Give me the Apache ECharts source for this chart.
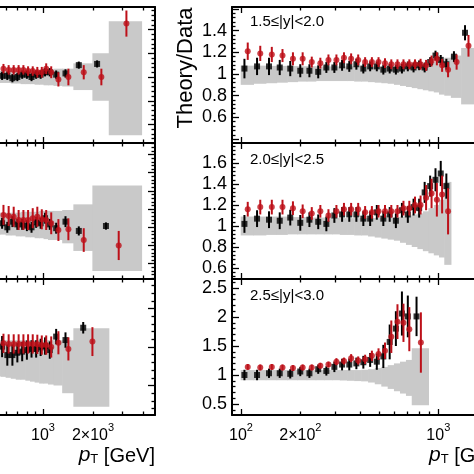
<!DOCTYPE html>
<html><head><meta charset="utf-8">
<script src="https://cdn.jsdelivr.net/npm/echarts@6/dist/echarts.min.js"></script>
<style>html,body{margin:0;padding:0;background:#fff}#c{width:474px;height:474px}</style>
</head><body><div id="c"></div>
<script>
// ---------------- DATA ----------------
// pT bin edges [GeV] per panel
const ltEdges = [516,556,598,642,688,736,786,838,894,952,1012,1076,1162,1310,1530,1992,2500,3937];
const lmEdges = [516,556,598,642,688,736,786,838,894,952,1012,1076,1162,1310,1530,1992,3937];
const lbEdges = [516,556,598,642,688,736,786,838,894,952,1012,1076,1162,1310,1530,2500];
const rtEdges = [100,116,134,152,172,194,216,240,264,290,318,346,376,408,442,478,516,556,598,642,688,736,786,838,894,952,1012,1076,1162,1310,1530];
const rmEdges = [100,116,134,152,172,194,216,240,264,290,318,346,376,408,442,478,516,556,598,642,688,736,786,838,894,952,1012,1076,1162];
const rbEdges = [100,116,134,152,172,194,216,240,264,290,318,346,376,408,442,478,516,556,598,642,688,736,894];

// left-top panel
const ltRed      = [1.07,1.07,1.06,1.06,1.06,1.06,1.05,1.05,1.04,1.04,1.07,1.04,0.98,1.00,1.04,1.00,1.45];
const ltRedErr   = [0.04,0.04,0.04,0.04,0.04,0.04,0.04,0.04,0.045,0.045,0.045,0.05,0.06,0.07,0.06,0.07,0.11];
const ltBlack    = [1.01,1.01,1.01,0.99,1.00,1.02,1.02,1.00,1.02,1.02,1.04,1.04,1.02,1.03,1.10,1.11,null];
const ltBlackErr = [0.035,0.035,0.035,0.035,0.035,0.035,0.035,0.035,0.035,0.035,0.035,0.035,0.035,0.035,0.03,0.03,0];
const ltBandHi   = [1.05,1.05,1.05,1.05,1.05,1.055,1.055,1.06,1.06,1.06,1.065,1.065,1.07,1.07,1.115,1.20,1.47];
const ltBandLo   = [0.95,0.95,0.95,0.945,0.945,0.94,0.94,0.94,0.935,0.935,0.93,0.93,0.925,0.92,0.89,0.80,0.51];

// left-middle panel
const lmRed      = [1.068,1.068,1.062,1.058,1.04,1.04,1.04,1.05,1.058,1.044,1.04,1.022,0.985,0.989,0.93,0.90];
const lmRedErr   = [0.055,0.055,0.055,0.055,0.055,0.055,0.055,0.055,0.055,0.055,0.055,0.06,0.06,0.06,0.065,0.08];
const lmBlack    = [null,1.022,1.0,1.031,1.016,1.016,1.009,1.0,1.027,1.022,1.05,1.016,0.995,1.031,0.98,1.007];
const lmBlackErr = [0,0.03,0.03,0.03,0.03,0.03,0.03,0.03,0.03,0.03,0.03,0.03,0.03,0.03,0.025,0.02];
const lmBandHi   = [1.08,1.08,1.08,1.08,1.08,1.085,1.085,1.085,1.085,1.09,1.09,1.09,1.09,1.095,1.126,1.23];
const lmBandLo   = [0.96,0.96,0.955,0.955,0.95,0.95,0.945,0.945,0.94,0.94,0.935,0.93,0.93,0.912,0.87,0.76];

// left-bottom panel
const lbRed      = [1.031,1.019,1.016,1.016,1.016,1.016,1.016,1.016,1.014,1.01,1.01,1.0,1.022,0.99,1.028];
const lbRedErr   = [0.05,0.05,0.05,0.05,0.05,0.05,0.05,0.05,0.05,0.05,0.05,0.055,0.06,0.06,0.075];
const lbBlack    = [null,1.002,0.958,0.958,0.97,0.976,0.984,0.99,0.99,0.998,1.005,0.984,1.054,1.036,1.10];
const lbBlackErr = [0,0.055,0.055,0.055,0.05,0.05,0.05,0.045,0.045,0.045,0.045,0.045,0.04,0.04,0.03];
const lbBandHi   = [1.035,1.035,1.035,1.035,1.035,1.035,1.035,1.035,1.035,1.035,1.035,1.035,1.035,1.035,1.097];
const lbBandLo   = [0.85,0.845,0.84,0.835,0.83,0.83,0.825,0.82,0.815,0.81,0.81,0.805,0.80,0.76,0.69];

// right-top panel  1.5<=|y|<2.0
const rtBlack    = [1.05,1.07,1.07,1.06,1.05,1.03,1.03,1.02,1.06,1.06,1.08,1.07,1.09,1.05,1.07,1.07,1.04,1.05,1.04,1.05,1.07,1.06,1.08,1.06,1.11,1.17,1.13,1.09,1.16,1.38];
const rtBlackErr = [0.09,0.08,0.08,0.07,0.07,0.06,0.06,0.06,0.05,0.05,0.05,0.05,0.05,0.045,0.045,0.045,0.045,0.045,0.045,0.045,0.045,0.045,0.045,0.045,0.045,0.045,0.045,0.05,0.05,0.07];
const rtRed      = [1.21,1.19,1.18,1.17,1.14,1.14,1.11,1.10,1.13,1.13,1.15,1.14,1.13,1.11,1.11,1.11,1.10,1.09,1.09,1.09,1.09,1.09,1.09,1.08,1.12,1.14,1.08,1.04,1.11,1.26];
const rtRedErr   = [0.08,0.07,0.07,0.06,0.06,0.06,0.05,0.05,0.05,0.05,0.05,0.05,0.05,0.045,0.045,0.045,0.045,0.045,0.045,0.045,0.045,0.045,0.05,0.05,0.05,0.06,0.06,0.07,0.07,0.1];
const rtBandHi   = [1.077,1.077,1.075,1.075,1.073,1.072,1.072,1.07,1.07,1.07,1.07,1.07,1.07,1.068,1.068,1.068,1.068,1.07,1.07,1.072,1.075,1.08,1.085,1.09,1.10,1.11,1.13,1.15,1.17,1.24];
const rtBandLo   = [0.90,0.91,0.915,0.92,0.925,0.93,0.93,0.935,0.935,0.935,0.935,0.935,0.93,0.93,0.925,0.92,0.915,0.91,0.90,0.89,0.88,0.87,0.86,0.85,0.84,0.83,0.81,0.80,0.78,0.72];

// right-middle panel  2.0<=|y|<2.5
const rmBlack    = [1.02,1.07,1.06,1.05,1.08,1.03,1.06,1.04,1.02,1.10,1.11,1.11,1.11,1.07,1.07,1.13,1.07,1.11,1.05,1.15,1.11,1.18,1.17,1.32,1.38,1.44,1.50,1.38];
const rmBlackErr = [0.085,0.08,0.08,0.08,0.075,0.075,0.07,0.07,0.07,0.07,0.07,0.07,0.07,0.07,0.07,0.07,0.07,0.07,0.07,0.07,0.08,0.08,0.09,0.1,0.1,0.11,0.12,0.12];
const rmRed      = [1.16,1.18,1.18,1.18,1.17,1.14,1.12,1.14,1.10,1.14,1.16,1.16,1.16,1.13,1.13,1.14,1.14,1.14,1.14,1.17,1.17,1.20,1.20,1.27,1.31,1.25,1.30,1.14];
const rmRedErr   = [0.07,0.07,0.07,0.07,0.065,0.065,0.06,0.06,0.06,0.06,0.06,0.06,0.06,0.06,0.06,0.06,0.06,0.06,0.06,0.07,0.07,0.08,0.09,0.12,0.14,0.16,0.18,0.22];
const rmBandHi   = [1.09,1.09,1.09,1.09,1.085,1.085,1.08,1.08,1.08,1.075,1.075,1.075,1.075,1.075,1.075,1.075,1.08,1.08,1.085,1.09,1.10,1.11,1.12,1.14,1.17,1.20,1.25,1.42];
const rmBandLo   = [0.91,0.91,0.915,0.915,0.92,0.92,0.92,0.92,0.92,0.92,0.915,0.915,0.91,0.91,0.90,0.89,0.88,0.87,0.86,0.84,0.82,0.80,0.78,0.76,0.74,0.72,0.70,0.63];

// right-bottom panel  2.5<=|y|<3.0
const rbBlack    = [1.00,1.00,1.03,1.03,1.02,1.06,1.03,1.10,1.07,1.14,1.18,1.18,1.20,1.22,1.26,1.23,1.32,1.57,1.80,2.06,2.01,2.01];
const rbBlackErr = [0.09,0.09,0.08,0.08,0.08,0.08,0.08,0.08,0.08,0.09,0.1,0.1,0.1,0.11,0.12,0.14,0.2,0.3,0.3,0.38,0.36,0.34];
const rbRed      = [1.14,1.13,1.14,1.13,1.12,1.13,1.13,1.16,1.18,1.23,1.24,1.29,1.25,1.27,1.33,1.36,1.42,1.66,1.92,1.90,1.79,1.56];
const rbRedErr   = [0.05,0.05,0.05,0.05,0.05,0.05,0.05,0.05,0.05,0.06,0.06,0.07,0.07,0.08,0.09,0.1,0.14,0.28,0.3,0.33,0.38,0.52];
const rbBandHi   = [1.085,1.085,1.085,1.085,1.085,1.085,1.085,1.085,1.085,1.085,1.085,1.085,1.085,1.09,1.10,1.12,1.14,1.17,1.20,1.23,1.26,1.46];
const rbBandLo   = [0.91,0.91,0.91,0.91,0.91,0.91,0.91,0.91,0.91,0.91,0.905,0.90,0.895,0.89,0.87,0.84,0.80,0.76,0.72,0.68,0.64,0.48];

// tick labels
const rightXTickVals = [100, 200, 1000];
const rightXTickText = [['10','2'], ['2\u00d710','2'], ['10','3']];
const leftXTickVals  = [1000, 2000];
const leftXTickText  = [['10','3'], ['2\u00d710','3']];
const rapidityLabels = ['1.5\u2264|y|<2.0', '2.0\u2264|y|<2.5', '2.5\u2264|y|<3.0'];
const yTitle = 'Theory/Data';

// ---------------- STYLE / LAYOUT ----------------
const FONT = '"Liberation Sans", Arial, Helvetica, sans-serif';
const RED = '#bd1019', BLACK = '#000000', BAND = '#c9c9c9';
const L = Math.log10;

const leftXMin = 3 - 43 / 166, leftXMax = leftXMin + 155 / 166;
const rightXMin = 2 - 9 / 197.3, rightXMax = rightXMin + 242 / 197.3;

function logTicks(ks, decades, min, max) {
  const out = [];
  decades.forEach(d => ks.forEach(k => { const v = L(k * d); if (v > min + 1e-6 && v < max - 1e-6) out.push(v); }));
  return out;
}
function linMinor(min, max, step, majors) {
  const out = [];
  for (let i = Math.ceil(min / step - 1e-9); i * step <= max + 1e-9; i++) {
    const v = +(i * step).toFixed(4);
    if (!majors.some(m => Math.abs(m - v) < 1e-6)) out.push(v);
  }
  return out;
}

const panels = [
  {g:{left:0,top:7,width:155,height:136}, xMin:leftXMin, xMax:leftXMax, yMin:0.4442, yMax:1.5895,
   yMajor:[0.6,0.8,1,1.2,1.4], yStep:0.04, side:'right', yLab:null, xLab:null,
   edges:ltEdges, red:ltRed, redErr:ltRedErr, black:ltBlack, blackErr:ltBlackErr, hi:ltBandHi, lo:ltBandLo},
  {g:{left:0,top:143,width:155,height:136}, xMin:leftXMin, xMax:leftXMax, yMin:0.716, yMax:1.463,
   yMajor:[0.8,0.9,1,1.1,1.2,1.3,1.4], yStep:0.02, side:'right', yLab:null, xLab:null,
   edges:lmEdges, red:lmRed, redErr:lmRedErr, black:lmBlack, blackErr:lmBlackErr, hi:lmBandHi, lo:lmBandLo},
  {g:{left:0,top:279,width:155,height:136}, xMin:leftXMin, xMax:leftXMax, yMin:0.6468, yMax:1.3532,
   yMajor:[0.8,1,1.2], yStep:0.04, side:'right', yLab:null, xLab:[leftXTickVals, leftXTickText],
   edges:lbEdges, red:lbRed, redErr:lbRedErr, black:lbBlack, blackErr:lbBlackErr, hi:lbBandHi, lo:lbBandLo},
  {g:{left:232,top:7,width:242,height:136}, xMin:rightXMin, xMax:rightXMax, yMin:0.3641, yMax:1.6175,
   yMajor:[0.4,0.6,0.8,1,1.2,1.4,1.6], yStep:0.04, side:'left', yLab:[0.6,0.8,1,1.2,1.4], xLab:null,
   edges:rtEdges, red:rtRed, redErr:rtRedErr, black:rtBlack, blackErr:rtBlackErr, hi:rtBandHi, lo:rtBandLo},
  {g:{left:232,top:143,width:242,height:136}, xMin:rightXMin, xMax:rightXMax, yMin:0.4952, yMax:1.7905,
   yMajor:[0.6,0.8,1,1.2,1.4,1.6], yStep:0.04, side:'left', yLab:[0.6,0.8,1,1.2,1.4,1.6], xLab:null,
   edges:rmEdges, red:rmRed, redErr:rmRedErr, black:rmBlack, blackErr:rmBlackErr, hi:rmBandHi, lo:rmBandLo},
  {g:{left:232,top:279,width:242,height:136}, xMin:rightXMin, xMax:rightXMax, yMin:0.3103, yMax:2.6552,
   yMajor:[0.5,1,1.5,2,2.5], yStep:0.1, side:'left', yLab:[0.5,1,1.5,2,2.5], xLab:[rightXTickVals, rightXTickText],
   edges:rbEdges, red:rbRed, redErr:rbRedErr, black:rbBlack, blackErr:rbBlackErr, hi:rbBandHi, lo:rbBandLo}
];

const lineSt = {color:'#000', width:2};
const tickSt = {color:'#000', width:1.3};

function bandItem(params, api) {
  const p0 = api.coord([api.value(0), api.value(3)]);
  const p1 = api.coord([api.value(1), api.value(2)]);
  return {type:'rect', shape:{x:p0[0]-0.3, y:p0[1], width:p1[0]-p0[0]+0.6, height:p1[1]-p0[1]},
          style:{fill:BAND}};
}
function errRenderer(color) {
  return function (params, api) {
    const a = api.coord([api.value(0), api.value(1)]);
    const b = api.coord([api.value(0), api.value(2)]);
    return {type:'line', shape:{x1:a[0], y1:a[1], x2:b[0], y2:b[1]}, style:{stroke:color, lineWidth:2}};
  };
}
function centers(edges, frac) {
  return edges.slice(0, -1).map((e, i) => L(e) + frac * (L(edges[i + 1]) - L(e)));
}

const grid = [], xAxis = [], yAxis = [], series = [];
panels.forEach((p, gi) => {
  grid.push({left:p.g.left, top:p.g.top, width:p.g.width, height:p.g.height, containLabel:false});
  const xMajor = logTicks([1], [100, 1000, 10000], p.xMin, p.xMax);
  const xMinor = logTicks([2,3,4,5,6,7,8,9], [10, 100, 1000], p.xMin, p.xMax);
  const base = {type:'value', gridIndex:gi, min:p.xMin, max:p.xMax, splitLine:{show:false}, silent:true};
  const xi = xAxis.length;
  let xLabel = {show:false};
  if (p.xLab) {
    const vals = p.xLab[0].map(L), txt = p.xLab[1];
    xLabel = {show:true, customValues:vals, margin:7, color:'#000',
      formatter: v => { let k = 0, d = 1e9; vals.forEach((q, i) => { if (Math.abs(q - v) < d) { d = Math.abs(q - v); k = i; } });
                        return '{b|' + txt[k][0] + '}{s|' + txt[k][1] + '}'; },
      rich:{b:{fontSize:16, fontFamily:FONT, color:'#000', lineHeight:22, verticalAlign:'bottom'},
            s:{fontSize:11, fontFamily:FONT, color:'#000', lineHeight:10, verticalAlign:'top'}}};
  }
  xAxis.push({...base, position:'bottom', axisLine:{show:true, onZero:false, lineStyle:lineSt},
    axisTick:{show:true, inside:true, length:6, customValues:xMajor, lineStyle:tickSt}, axisLabel:xLabel});
  xAxis.push({...base, position:'bottom', axisLine:{show:false, onZero:false},
    axisTick:{show:true, inside:true, length:3.5, customValues:xMinor, lineStyle:tickSt}, axisLabel:{show:false}});
  xAxis.push({...base, position:'top', axisLine:{show:true, onZero:false, lineStyle:lineSt},
    axisTick:{show:true, inside:true, length:6, customValues:xMajor, lineStyle:tickSt}, axisLabel:{show:false}});
  xAxis.push({...base, position:'top', axisLine:{show:false, onZero:false},
    axisTick:{show:true, inside:true, length:3.5, customValues:xMinor, lineStyle:tickSt}, axisLabel:{show:false}});

  const yi = yAxis.length;
  const ybase = {type:'value', gridIndex:gi, min:p.yMin, max:p.yMax, position:p.side, splitLine:{show:false}, silent:true};
  yAxis.push({...ybase, axisLine:{show:true, onZero:false, lineStyle:lineSt},
    axisTick:{show:true, inside:true, length:7, customValues:p.yMajor, lineStyle:tickSt},
    axisLabel: p.yLab ? {show:true, customValues:p.yLab, margin:5, fontSize:18, fontFamily:FONT, color:'#000',
                         formatter: v => String(+(+v).toFixed(2))} : {show:false}});
  yAxis.push({...ybase, axisLine:{show:false, onZero:false},
    axisTick:{show:true, inside:true, length:3.5, customValues:linMinor(p.yMin, p.yMax, p.yStep, p.yMajor), lineStyle:tickSt},
    axisLabel:{show:false}});

  const lx = p.edges.map(L);
  const rx = centers(p.edges, 0.53), bx = centers(p.edges, 0.27);
  const common = {xAxisIndex:xi, yAxisIndex:yi, silent:true, animation:false};
  series.push({...common, type:'custom', z:1, clip:true, renderItem:bandItem, encode:{x:[0,1], y:[2,3]},
    data:p.hi.map((h, i) => [lx[i], lx[i + 1], p.lo[i], h])});
  const bData = [], bErr = [], rData = [], rErr = [];
  p.black.forEach((v, i) => { if (v != null) { bData.push([bx[i], v]); bErr.push([bx[i], v - p.blackErr[i], v + p.blackErr[i]]); } });
  p.red.forEach((v, i) => { if (v != null) { rData.push([rx[i], v]); rErr.push([rx[i], v - p.redErr[i], v + p.redErr[i]]); } });
  series.push({...common, type:'custom', z:2, clip:true, renderItem:errRenderer(BLACK), encode:{x:0, y:[1,2]}, data:bErr});
  series.push({...common, type:'scatter', z:3, clip:true, symbol:'rect', symbolSize:6, itemStyle:{color:BLACK}, data:bData});
  series.push({...common, type:'custom', z:4, clip:true, renderItem:errRenderer(RED), encode:{x:0, y:[1,2]}, data:rErr});
  series.push({...common, type:'scatter', z:5, clip:true, symbol:'circle', symbolSize:6, itemStyle:{color:RED}, data:rData});
});

const ptRich = {
  i:{fontSize:21, fontStyle:'italic', fontFamily:FONT, fill:'#000', lineHeight:24, verticalAlign:'bottom'},
  t:{fontSize:13, fontFamily:FONT, fill:'#000', lineHeight:12, verticalAlign:'bottom'},
  g:{fontSize:20, fontFamily:FONT, fill:'#000', lineHeight:24, verticalAlign:'bottom'}
};
const graphic = [
  {type:'text', x:186, y:68, rotation:Math.PI/2, silent:true,
   style:{text:yTitle, fontSize:22, fontFamily:FONT, fill:'#000', align:'center', verticalAlign:'middle'}},
  {type:'text', x:155, y:442, silent:true,
   style:{text:'{i|p}{t|T}{g| [GeV]}', rich:ptRich, align:'right', verticalAlign:'top'}},
  {type:'text', x:429, y:442, silent:true,
   style:{text:'{i|p}{t|T}{g| [GeV]}', rich:ptRich, align:'left', verticalAlign:'top'}}
];
const labelY = [22, 160, 296];
rapidityLabels.forEach((t, i) => graphic.push({type:'text', x:250, y:labelY[i], silent:true,
  style:{text:t, fontSize:15, fontFamily:FONT, fill:'#000', align:'left', verticalAlign:'middle'}}));

const chart = echarts.init(document.getElementById('c'), null, {renderer:'canvas'});
chart.setOption({animation:false, backgroundColor:'#fff', grid, xAxis, yAxis, series, graphic});
</script>
</body></html>
